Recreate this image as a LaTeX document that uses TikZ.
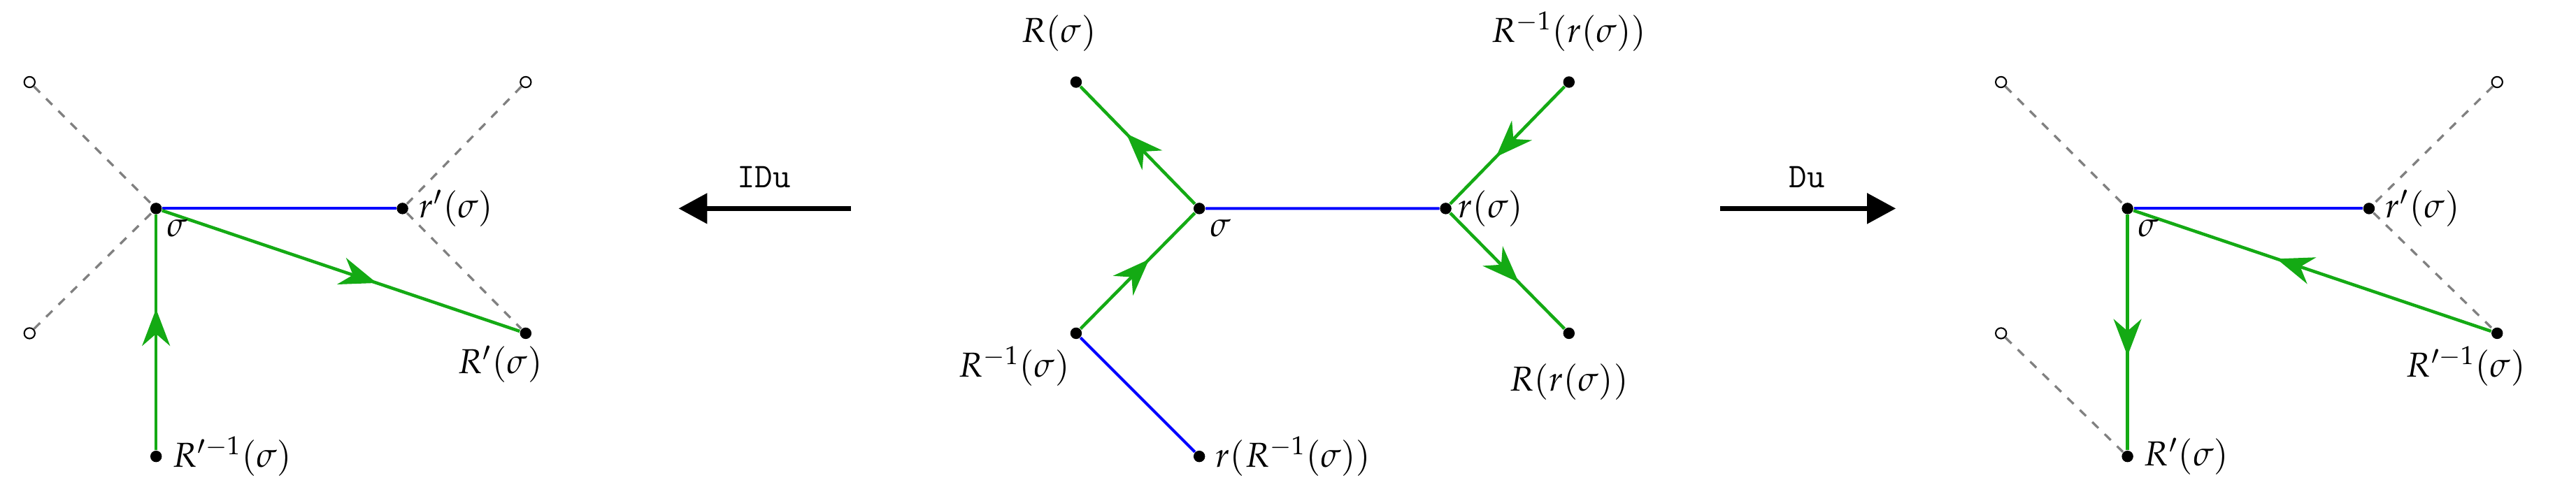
\documentclass[tikz,border=0pt]{standalone}
\usepackage{mathpazo}
\usetikzlibrary{decorations.markings,arrows.meta}
\definecolor{gr}{RGB}{20,170,20}
\tikzset{
 dot/.style={circle,fill=black,inner sep=0pt,minimum size=1.4mm},
 odot/.style={circle,draw=black,fill=white,line width=0.5pt,inner sep=0pt,minimum size=1.3mm},
 bl/.style={blue,line width=1pt},
 dsh/.style={gray,dashed,line width=0.8pt},
 ga/.style={gr,line width=1.1pt,postaction={decorate},decoration={markings,mark=at position 0.6 with {\arrow{Stealth[length=4.5mm,width=3.4mm]}}}},
 bigarr/.style={line width=1.8pt,-{Triangle[length=3.5mm,width=3.6mm]}},
 every node/.append style={font=\large}
}
\begin{document}
\begin{tikzpicture}[x=0.2mm,y=-0.2mm]
\useasboundingbox (0,0) rectangle (1568,305);
% left
\node[odot] (lo1) at (18,50) {};
\node[odot] (lo2) at (320,50) {};
\node[odot] (lo3) at (18,203) {};
\node[dot] (ls) at (95,127) {};
\node[dot] (lr) at (245,127) {};
\node[dot] (lR) at (320,203) {};
\node[dot] (lRi) at (95,278) {};
\draw[dsh] (lo1)--(ls) (lo3)--(ls) (lo2)--(lr) (lr)--(lR);
\draw[bl] (ls)--(lr);
\draw[ga] (lRi)--(ls);
\draw[ga] (ls)--(lR);
\node[anchor=north west,inner sep=2pt] at (ls.south east) {$\sigma$};
\node[anchor=west] at (lr.east) {$r'(\sigma)$};
\node[anchor=north east,inner sep=2pt] at (lR.south) [xshift=8pt] {$R'(\sigma)$};
\node[anchor=west] at (lRi.east) {$R'^{-1}(\sigma)$};
% IDu
\coordinate (ia) at (518,127); \coordinate (ib) at (413,127);
\draw[bigarr] (ia)--(ib);
\node (il) at (465,108) {\texttt{IDu}};
% middle
\node[dot] (ms) at (730,127) {};
\node[dot] (mr) at (880,127) {};
\node[dot] (mR) at (655,50) {};
\node[dot] (mRr) at (955,50) {};
\node[dot] (mRi) at (655,203) {};
\node[dot] (mrRi) at (730,278) {};
\node[dot] (mRrr) at (955,203) {};
\draw[bl] (ms)--(mr) (mRi)--(mrRi);
\draw[ga] (mRi)--(ms);
\draw[ga] (ms)--(mR);
\draw[ga] (mRr)--(mr);
\draw[ga] (mr)--(mRrr);
\node[anchor=north west,inner sep=2pt] at (ms.south east) {$\sigma$};
\node[anchor=west,inner sep=2pt] at (mr.east) {$r(\sigma)$};
\node[anchor=south] at (mR.north) [yshift=5pt,xshift=-6pt] {$R(\sigma)$};
\node[anchor=south] at (mRr.north) [yshift=5pt] {$R^{-1}(r(\sigma))$};
\node[anchor=north east,inner sep=2pt] at (mRi.south) {$R^{-1}(\sigma)$};
\node[anchor=west] at (mrRi.east) {$r(R^{-1}(\sigma))$};
\node[anchor=north,yshift=-5pt] at (mRrr.south) {$R(r(\sigma))$};
% Du
\coordinate (da) at (1047,127); \coordinate (db) at (1154,127);
\draw[bigarr] (da)--(db);
\node (dl) at (1100,108) {\texttt{Du}};
% right
\node[odot] (ro1) at (1218,50) {};
\node[odot] (ro2) at (1520,50) {};
\node[odot] (ro3) at (1218,203) {};
\node[dot] (rs) at (1295,127) {};
\node[dot] (rr) at (1442,127) {};
\node[dot] (rRi) at (1520,203) {};
\node[dot] (rR) at (1295,278) {};
\draw[dsh] (ro1)--(rs) (ro3)--(rR) (ro2)--(rr) (rr)--(rRi);
\draw[bl] (rs)--(rr);
\draw[ga] (rs)--(rR);
\draw[ga] (rRi)--(rs);
\node[anchor=north west,inner sep=2pt] at (rs.south east) {$\sigma$};
\node[anchor=west] at (rr.east) {$r'(\sigma)$};
\node[anchor=north east,inner sep=2pt] at (rRi.south) [xshift=12pt] {$R'^{-1}(\sigma)$};
\node[anchor=west] at (rR.east) {$R'(\sigma)$};
\end{tikzpicture}
\end{document}
